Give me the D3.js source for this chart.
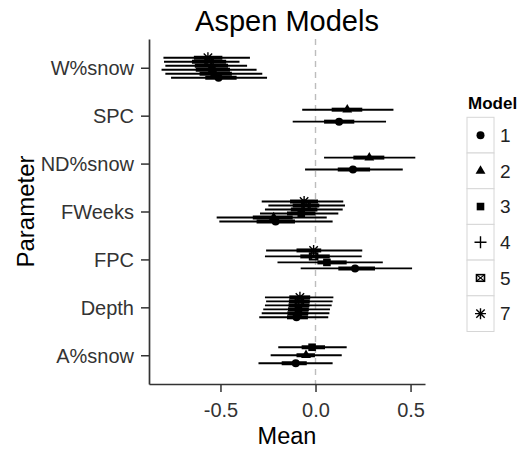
<!DOCTYPE html>
<html>
<head>
<meta charset="utf-8">
<script src="https://cdn.jsdelivr.net/npm/d3@7"></script>
<style>
  body { margin: 0; background: #fff; }
  svg { display: block; font-family: "Liberation Sans", Arial, sans-serif; }
</style>
</head>
<body>
<svg id="chart" width="526" height="453"></svg>
<script>
// Parameters (top to bottom) and model identifiers
const parameters = ["W%snow", "SPC", "ND%snow", "FWeeks", "FPC", "Depth", "A%snow"];
const modelIds = ["1", "2", "3", "4", "5", "7"];

// Posterior summaries: one entry per parameter/model pair
const estParam = [
  "W%snow", "W%snow", "W%snow", "W%snow", "W%snow", "W%snow",
  "SPC", "SPC",
  "ND%snow", "ND%snow",
  "FWeeks", "FWeeks", "FWeeks", "FWeeks", "FWeeks", "FWeeks",
  "FPC", "FPC", "FPC", "FPC",
  "Depth", "Depth", "Depth", "Depth", "Depth", "Depth",
  "A%snow", "A%snow", "A%snow"
];
const estModel = [
  "1", "2", "3", "4", "5", "7",
  "1", "2",
  "1", "2",
  "1", "2", "3", "4", "5", "7",
  "1", "3", "5", "7",
  "1", "2", "3", "4", "5", "7",
  "1", "2", "3"
];
const estMean = [
  -0.510, -0.530, -0.545, -0.550, -0.560, -0.566,
  0.124, 0.167,
  0.197, 0.283,
  -0.210, -0.220, -0.075, -0.060, -0.050, -0.060,
  0.208, 0.060, -0.010, -0.010,
  -0.100, -0.095, -0.090, -0.088, -0.085, -0.082,
  -0.104, -0.050, -0.018
];
const estLow95 = [
  -0.760, -0.790, -0.810, -0.790, -0.797, -0.800,
  -0.120, -0.070,
  -0.055, 0.045,
  -0.506, -0.520, -0.292, -0.266, -0.248, -0.283,
  -0.078, -0.200, -0.266, -0.260,
  -0.296, -0.283, -0.275, -0.266, -0.260, -0.266,
  -0.300, -0.236, -0.196
];
const estHigh95 = [
  -0.255, -0.280, -0.310, -0.360, -0.400, -0.345,
  0.371, 0.410,
  0.459, 0.525,
  0.090, 0.059, 0.120, 0.143, 0.155, 0.146,
  0.508, 0.354, 0.243, 0.246,
  0.067, 0.073, 0.076, 0.085, 0.090, 0.094,
  0.090, 0.138, 0.164
];
const estLow50 = [
  -0.580, -0.610, -0.630, -0.635, -0.650, -0.640,
  0.045, 0.085,
  0.117, 0.199,
  -0.310, -0.330, -0.150, -0.130, -0.120, -0.134,
  0.120, 0.010, -0.080, -0.100,
  -0.150, -0.148, -0.145, -0.142, -0.140, -0.138,
  -0.178, -0.100, -0.073
];
const estHigh50 = [
  -0.415, -0.440, -0.450, -0.460, -0.470, -0.490,
  0.204, 0.246,
  0.287, 0.362,
  -0.108, -0.120, 0.000, 0.010, 0.020, 0.013,
  0.313, 0.164, 0.075, 0.030,
  -0.040, -0.038, -0.035, -0.032, -0.030, -0.028,
  -0.046, -0.003, 0.050
];

// Axis ticks
const xTickValues = [-0.5, 0.0, 0.5];
const xTickLabels = ["-0.5", "0.0", "0.5"];

const rows = estParam.map((p, i) => ({
  param: p, model: estModel[i], mean: estMean[i],
  lo: estLow95[i], hi: estHigh95[i], lo50: estLow50[i], hi50: estHigh50[i]
}));

const svg = d3.select("#chart");
const panel = { left: 149, right: 425, top: 39, bottom: 384 };

const x = d3.scaleLinear().domain([-0.876, 0.576]).range([panel.left, panel.right]);
const y = d3.scalePoint().domain(parameters).range([panel.top, panel.bottom]).padding(0.6);
const dodgeWidth = 0.5 * y.step();

// Vertical dodge: model 1 at the bottom of each group
rows.forEach(r => {
  const present = modelIds.filter(m => rows.some(o => o.param === r.param && o.model === m));
  const n = present.length;
  const i = present.indexOf(r.model);
  r.y = y(r.param) + ((n - 1) / 2 - i) * (dodgeWidth / n);
});

// Reference line at zero
svg.append("line")
  .attr("x1", x(0)).attr("x2", x(0))
  .attr("y1", panel.top).attr("y2", panel.bottom)
  .attr("stroke", "#bdbdbd").attr("stroke-width", 1.4)
  .attr("stroke-dasharray", "6,5");

// Interval lines
const g = svg.append("g");
g.selectAll("line.ci95").data(rows).join("line")
  .attr("class", "ci95")
  .attr("x1", d => x(d.lo)).attr("x2", d => x(d.hi))
  .attr("y1", d => d.y).attr("y2", d => d.y)
  .attr("stroke", "#000").attr("stroke-width", 1.9);
g.selectAll("line.ci50").data(rows).join("line")
  .attr("class", "ci50")
  .attr("x1", d => x(d.lo50)).attr("x2", d => x(d.hi50))
  .attr("y1", d => d.y).attr("y2", d => d.y)
  .attr("stroke", "#000").attr("stroke-width", 4);

// Point shapes per model
function drawMarker(sel, model) {
  const sw = 1.4;
  if (model === "1") {
    sel.append("circle").attr("r", 4).attr("fill", "#000");
  } else if (model === "2") {
    sel.append("path").attr("d", d3.symbol(d3.symbolTriangle, 42)()).attr("fill", "#000");
  } else if (model === "3") {
    sel.append("rect").attr("x", -3.8).attr("y", -3.8).attr("width", 7.6).attr("height", 7.6).attr("fill", "#000");
  } else if (model === "4") {
    sel.append("path").attr("d", "M-6,0H6M0,-6V6").attr("stroke", "#000").attr("stroke-width", sw).attr("fill", "none");
  } else if (model === "5") {
    sel.append("rect").attr("x", -4).attr("y", -3.3).attr("width", 8).attr("height", 6.6)
      .attr("fill", "none").attr("stroke", "#000").attr("stroke-width", 1.6);
    sel.append("path").attr("d", "M-4,-3.3L4,3.3M-4,3.3L4,-3.3").attr("stroke", "#000").attr("stroke-width", 1.2);
  } else if (model === "7") {
    sel.append("path").attr("d", "M-5.5,0H5.5M0,-5.5V5.5M-4.2,-4.2L4.2,4.2M-4.2,4.2L4.2,-4.2")
      .attr("stroke", "#000").attr("stroke-width", sw).attr("fill", "none");
  }
}

g.selectAll("g.pt").data(rows).join("g")
  .attr("class", "pt")
  .attr("transform", d => `translate(${x(d.mean)},${d.y})`)
  .each(function (d) { drawMarker(d3.select(this), d.model); });

// Axes
const axisColor = "#333";
const xAxis = svg.append("g")
  .attr("transform", `translate(0,${panel.bottom})`)
  .call(d3.axisBottom(x).tickValues(xTickValues).tickFormat((d, i) => xTickLabels[i])
    .tickSize(8).tickSizeOuter(0).tickPadding(11));
const yAxis = svg.append("g")
  .attr("transform", `translate(${panel.left},0)`)
  .call(d3.axisLeft(y).tickSize(8).tickSizeOuter(0).tickPadding(7));

[xAxis, yAxis].forEach(a => {
  a.select(".domain").attr("stroke", axisColor).attr("stroke-width", 1.7);
  a.selectAll(".tick line").attr("stroke", axisColor).attr("stroke-width", 1.5);
  a.selectAll(".tick text").attr("fill", axisColor).attr("font-size", 20)
    .attr("font-family", "Liberation Sans, Arial, sans-serif");
});
yAxis.selectAll(".tick text").attr("dy", "0.34em");

// Titles
svg.append("text")
  .attr("x", (panel.left + panel.right) / 2).attr("y", 31)
  .attr("text-anchor", "middle").attr("font-size", 29).attr("fill", "#000")
  .text("Aspen Models");
svg.append("text")
  .attr("x", (panel.left + panel.right) / 2).attr("y", 444)
  .attr("text-anchor", "middle").attr("font-size", 23.5).attr("fill", "#000")
  .text("Mean");
svg.append("text")
  .attr("transform", `translate(34,${(panel.top + panel.bottom) / 2}) rotate(-90)`)
  .attr("text-anchor", "middle").attr("font-size", 24).attr("fill", "#000")
  .text("Parameter");

// Legend
const legend = svg.append("g").attr("transform", "translate(467,0)");
legend.append("text")
  .attr("x", 1).attr("y", 109)
  .attr("font-size", 17).attr("font-weight", "bold").attr("fill", "#000")
  .text("Model");
const keyH = 35.7, keyW = 27, keyTop = 117.3;
const keys = legend.selectAll("g.key").data(modelIds).join("g")
  .attr("class", "key")
  .attr("transform", (d, i) => `translate(0,${keyTop + i * keyH})`);
keys.append("rect")
  .attr("width", keyW).attr("height", keyH)
  .attr("fill", "#fff").attr("stroke", "#d6d6d6").attr("stroke-width", 1);
keys.append("g")
  .attr("transform", `translate(${keyW / 2},${keyH / 2})`)
  .each(function (d) { drawMarker(d3.select(this), d); });
keys.append("text")
  .attr("x", keyW + 6).attr("y", keyH / 2).attr("dy", "0.36em")
  .attr("font-size", 19).attr("fill", "#222")
  .text(d => d);
</script>
</body>
</html>
